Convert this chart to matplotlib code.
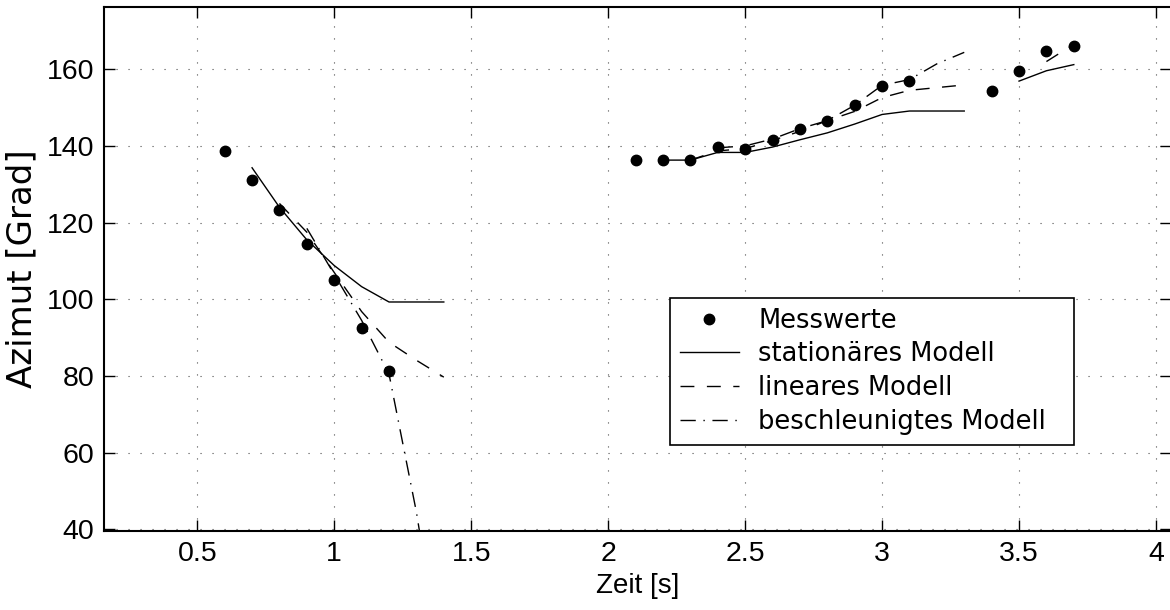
import matplotlib
matplotlib.use('Agg')
import matplotlib.pyplot as plt
import numpy as np

plt.rcParams['font.family'] = ['Liberation Sans', 'DejaVu Sans']

# Messwerte (zwei Spuren)
t_mess_1 = [0.6, 0.7, 0.8, 0.9, 1.0, 1.1, 1.2]
az_mess_1 = [138.6, 131.2, 123.2, 114.5, 105.0, 92.5, 81.2]
t_mess_2 = [2.1, 2.2, 2.3, 2.4, 2.5, 2.6, 2.7, 2.8, 2.9, 3.0, 3.1, 3.4, 3.5, 3.6, 3.7]
az_mess_2 = [136.3, 136.3, 136.3, 139.7, 139.3, 141.5, 144.3, 146.4, 150.6, 155.6, 156.9,
             154.3, 159.6, 164.8, 166.1]

# stationaeres Modell
t_stat_1 = [0.7, 0.8, 0.9, 1.0, 1.1, 1.2, 1.3, 1.4]
az_stat_1 = [134.3, 124.0, 115.5, 108.8, 103.3, 99.3, 99.3, 99.3]
t_stat_2 = [2.2, 2.3, 2.4, 2.5, 2.6, 2.7, 2.8, 2.9, 3.0, 3.1, 3.2, 3.3]
az_stat_2 = [136.3, 136.3, 138.3, 138.3, 139.7, 141.6, 143.4, 145.7, 148.2, 149.1, 149.1, 149.1]
t_stat_3 = [3.5, 3.6, 3.7]
az_stat_3 = [156.9, 159.6, 161.2]

# lineares Modell
t_lin_1 = [0.8, 0.9, 1.0, 1.1, 1.2, 1.3, 1.4]
az_lin_1 = [125.0, 117.5, 107.0, 96.8, 88.8, 84.1, 79.7]
t_lin_2 = [2.3, 2.4, 2.5, 2.6, 2.7, 2.8, 2.9, 3.0, 3.1, 3.2, 3.3]
az_lin_2 = [136.3, 138.7, 139.3, 141.4, 143.8, 146.6, 149.0, 152.6, 154.5, 155.2, 155.9]
t_lin_3 = [3.6, 3.7]
az_lin_3 = [162.0, 166.5]

# beschleunigtes Modell
t_acc_1 = [0.9, 1.0, 1.1, 1.2, 1.3, 1.4]
az_acc_1 = [118.5, 106.5, 94.5, 80.5, 44.5, 0.0]
t_acc_2 = [2.4, 2.5, 2.6, 2.7, 2.8, 2.9, 3.0, 3.1, 3.2, 3.3]
az_acc_2 = [139.5, 140.0, 141.8, 144.5, 146.6, 150.6, 155.8, 157.3, 161.4, 164.4]

x_ticks = [0.5, 1, 1.5, 2, 2.5, 3, 3.5, 4]
x_ticklabels = ['0.5', '1', '1.5', '2', '2.5', '3', '3.5', '4']
y_ticks = [40, 60, 80, 100, 120, 140, 160]

dashed = (0, (10, 9))
dashdot = (0, (11, 5.5, 1, 5.5))


def plot_azimut():
    fig = plt.figure(figsize=(11.7, 6.1), dpi=100)
    ax = fig.add_axes([0.0889, 0.129, 0.912, 0.86])

    ax.plot(t_mess_1, az_mess_1, 'o', color='k', markersize=7.5, label='Messwerte')
    ax.plot(t_mess_2, az_mess_2, 'o', color='k', markersize=7.5)

    ax.plot(t_stat_1, az_stat_1, '-', color='k', lw=1.0, label='stationäres Modell')
    ax.plot(t_stat_2, az_stat_2, '-', color='k', lw=1.0)
    ax.plot(t_stat_3, az_stat_3, '-', color='k', lw=1.0)

    ax.plot(t_lin_1, az_lin_1, color='k', lw=1.0, linestyle=dashed, label='lineares Modell')
    ax.plot(t_lin_2, az_lin_2, color='k', lw=1.0, linestyle=dashed)
    ax.plot(t_lin_3, az_lin_3, color='k', lw=1.0, linestyle=dashed)

    ax.plot(t_acc_1, az_acc_1, color='k', lw=1.0, linestyle=dashdot, label='beschleunigtes Modell')
    ax.plot(t_acc_2, az_acc_2, color='k', lw=1.0, linestyle=dashdot)

    ax.set_xlim(0.1595, 4.055)
    ax.set_ylim(39.5, 176.3)
    ax.set_xticks(x_ticks)
    ax.set_xticklabels(x_ticklabels)
    ax.set_yticks(y_ticks)

    ax.grid(True, color='0.3', linestyle=(0, (1, 9.8)), lw=0.8)
    ax.tick_params(direction='in', length=8, width=1.0, top=True, right=True,
                   labelsize=20.5, pad=7)
    for sp in ax.spines.values():
        sp.set_linewidth(1.5)

    ax.set_xlabel('Zeit [s]', fontsize=20, labelpad=4)
    # the reference text is drawn wide, DejaVu comes closer to that
    ax.set_ylabel('Azimut [Grad]', fontsize=24.5, labelpad=6,
                  family=['DejaVu Sans'])

    leg = ax.legend(loc='upper left', bbox_to_anchor=(0.5305, 0.4447, 0.3786, 0.0),
                    mode='expand',
                    prop={'family': 'DejaVu Sans', 'size': 18.5},
                    frameon=True, fancybox=False, edgecolor='k', framealpha=1,
                    handlelength=2.3, handletextpad=0.75, labelspacing=0.3,
                    borderpad=0.38, borderaxespad=0)
    leg.get_frame().set_linewidth(1.2)

    fig.savefig('out.png', dpi=100)


if __name__ == '__main__':
    plot_azimut()
